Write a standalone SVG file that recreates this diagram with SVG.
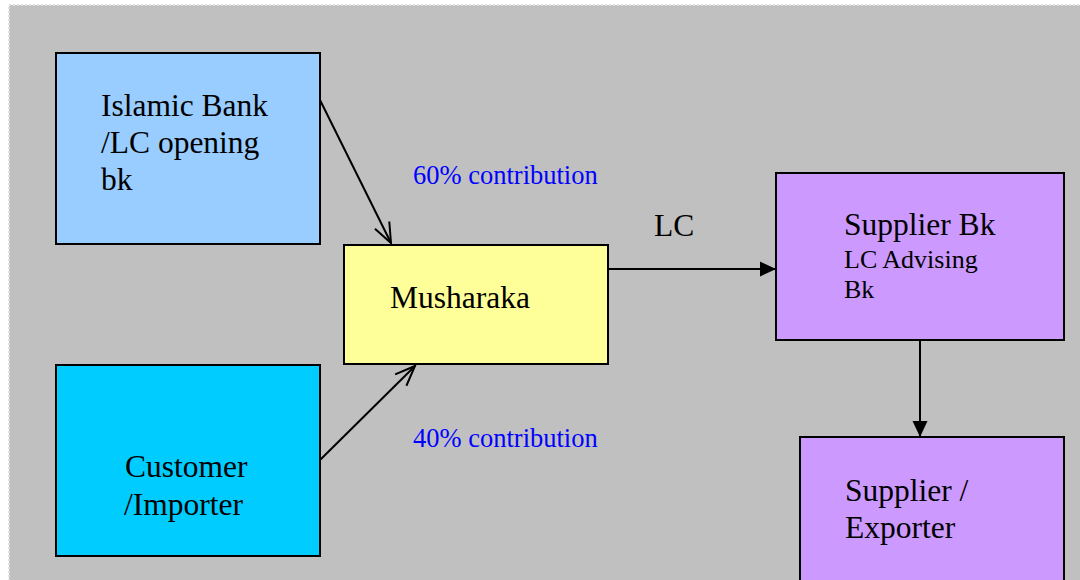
<svg xmlns="http://www.w3.org/2000/svg" width="1080" height="580" viewBox="0 0 1080 580">
<style>
.box{stroke:#000;stroke-width:2}
.t{font-family:"Liberation Serif","Times New Roman",serif;font-size:31.5px;fill:#000}
.s{font-family:"Liberation Serif","Times New Roman",serif;font-size:26px;fill:#000}
.b{font-family:"Liberation Serif","Times New Roman",serif;font-size:26.5px;fill:#0000FF}
.c{stroke:#000;stroke-width:2;fill:none}
</style>
<defs>
<marker id="open" markerUnits="userSpaceOnUse" markerWidth="26" markerHeight="26" viewBox="-23 -13 26 26" refX="0" refY="0" orient="auto">
<path d="M-20,-8 L0,0 L-20,8" fill="none" stroke="#000" stroke-width="2"/>
</marker>
<marker id="fill" markerUnits="userSpaceOnUse" markerWidth="20" markerHeight="20" viewBox="-18 -10 20 20" refX="0" refY="0" orient="auto">
<path d="M-16,-7.5 L0,0 L-16,7.5 Z" fill="#000"/>
</marker>
</defs>
<rect x="0" y="0" width="1080" height="580" fill="#fff"/>
<rect x="9" y="5" width="1072" height="576" fill="#C0C0C0" stroke="#e0e0e0" stroke-width="2" stroke-dasharray="2,2"/>
<g id="connectors">
<line class="c" x1="320" y1="100" x2="391" y2="243" marker-end="url(#open)"/>
<line class="c" x1="320" y1="460" x2="415" y2="366" marker-end="url(#open)"/>
<line class="c" x1="608" y1="269" x2="776" y2="269" marker-end="url(#fill)"/>
<line class="c" x1="920" y1="340" x2="920" y2="437" marker-end="url(#fill)"/>
<text class="b" x="413" y="184">60% contribution</text>
<text class="b" x="413" y="447">40% contribution</text>
<text class="t" x="654" y="236">LC</text>
</g>
<g id="islamic-bank">
<rect class="box" x="56" y="53" width="264" height="191" fill="#99CCFF"/>
<text class="t" x="101" y="116">Islamic Bank</text>
<text class="t" x="101" y="153">/LC opening</text>
<text class="t" x="101" y="190">bk</text>
</g>
<g id="customer">
<rect class="box" x="56" y="365" width="264" height="191" fill="#00CCFF"/>
<text class="t" x="125" y="477">Customer</text>
<text class="t" x="124" y="515">/Importer</text>
</g>
<g id="musharaka">
<rect class="box" x="344" y="245" width="264" height="119" fill="#FFFF99"/>
<text class="t" x="390" y="308">Musharaka</text>
</g>
<g id="supplier-bank">
<rect class="box" x="776" y="173" width="288" height="167" fill="#CC99FF"/>
<text class="t" x="844" y="235">Supplier Bk</text>
<text class="s" x="844" y="268">LC Advising</text>
<text class="s" x="844" y="298">Bk</text>
</g>
<g id="supplier-exporter">
<rect class="box" x="800" y="437" width="264" height="160" fill="#CC99FF"/>
<text class="t" x="845" y="501">Supplier /</text>
<text class="t" x="845" y="538">Exporter</text>
</g>
</svg>
